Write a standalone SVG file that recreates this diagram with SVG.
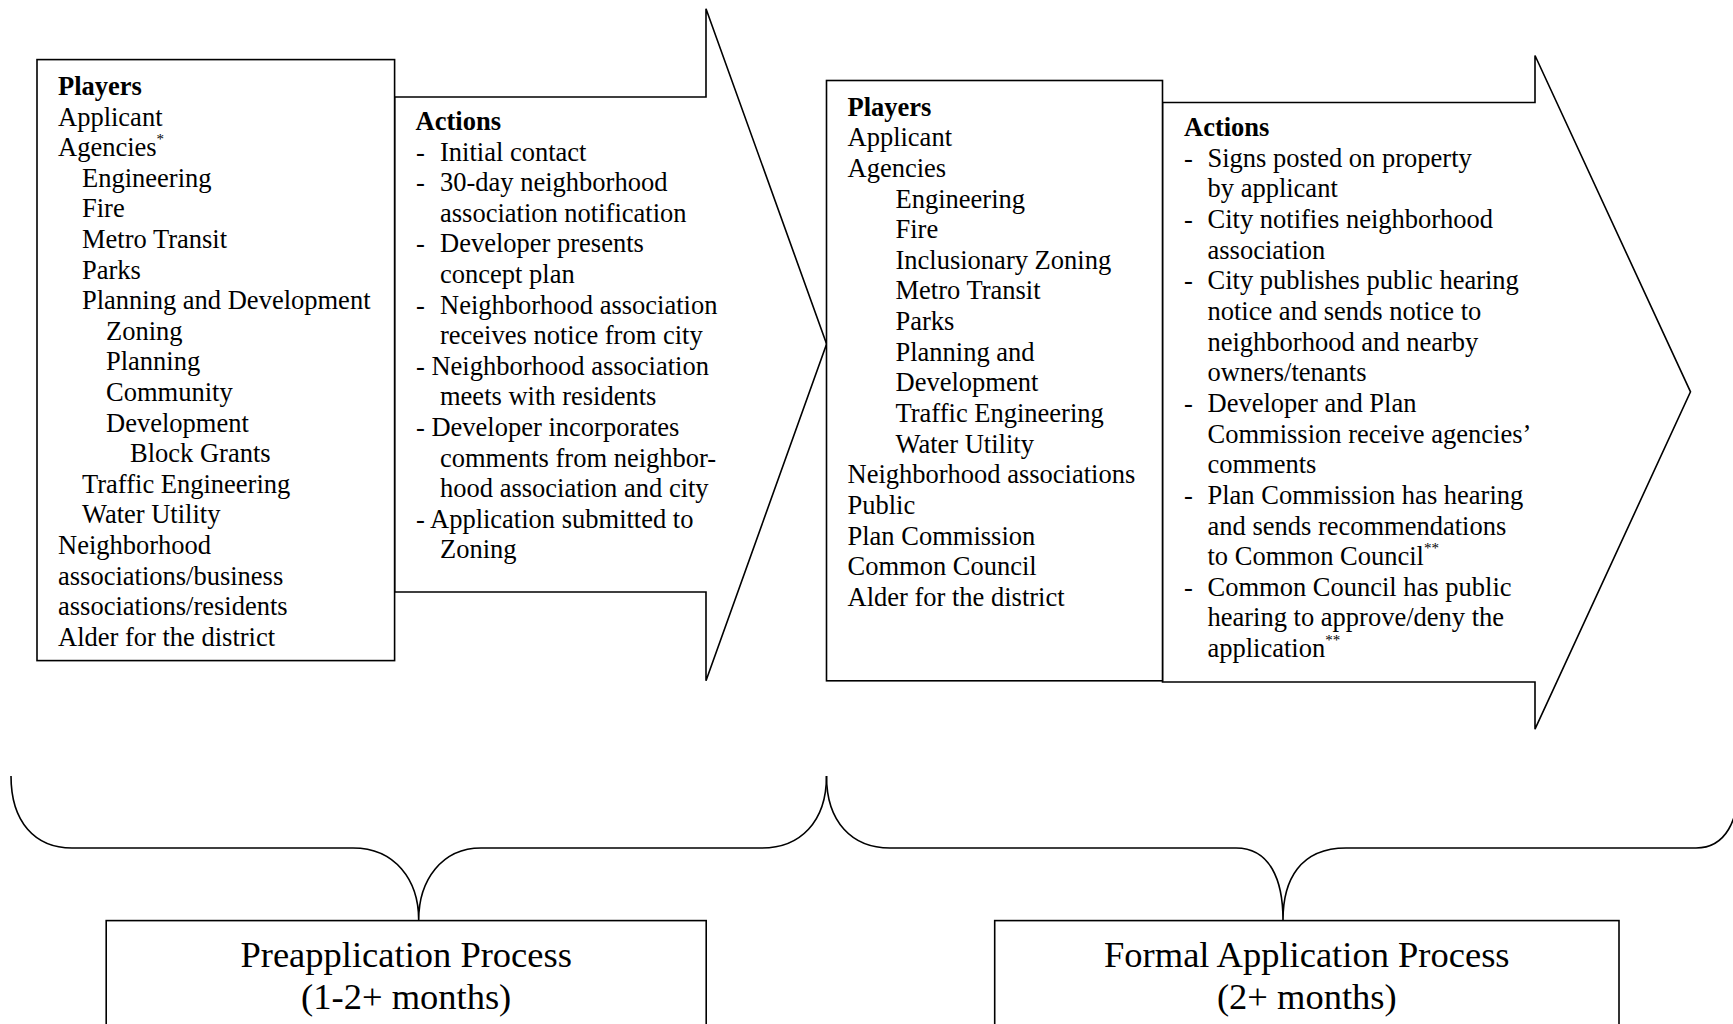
<svg xmlns="http://www.w3.org/2000/svg" width="1733" height="1024" viewBox="0 0 1733 1024">
<style>
.shape{fill:#fff;stroke:#000;stroke-width:1.6;stroke-linejoin:miter}
.brace{fill:none;stroke:#000;stroke-width:1.6}
text{font-family:"Liberation Serif","Times New Roman",serif;font-size:26.5px;fill:#000}
.b{font-weight:bold}
.sup{font-size:15px}
.big{font-size:36.5px;text-anchor:middle}
</style>
<rect width="1733" height="1024" fill="#fff"/>
<g id="connectors">
<path class="brace" d="M 11 776 C 11 822 35 848 72 848 L 353 848 C 395 848 418.7 880 418.7 920 C 418.7 880 442 848 481 848 L 762 848 C 800 848 826.5 822 826.5 776"/>
<path class="brace" d="M 826.5 776 C 826.5 822 852 848 890 848 L 1236 848 C 1270 848 1283 880 1283 920 C 1283 880 1300 848 1346 848 L 1696 848 C 1725 848 1739.5 822 1739.5 776"/>
</g>
<g id="arrow-pre">
<polygon class="shape" points="394.6,97 706,97 706,8.8 826.6,344 706,680.8 706,592 394.6,592"/>
<text class="b" x="415.6" y="130">Actions</text>
<text x="416" y="160.6">-</text><text x="440" y="160.6">Initial contact</text>
<text x="416" y="191.2">-</text><text x="440" y="191.2">30-day neighborhood</text>
<text x="440" y="221.8">association notification</text>
<text x="416" y="252.4">-</text><text x="440" y="252.4">Developer presents</text>
<text x="440" y="283">concept plan</text>
<text x="416" y="313.6">-</text><text x="440" y="313.6">Neighborhood association</text>
<text x="440" y="344.2">receives notice from city</text>
<text x="416" y="374.8">- Neighborhood association</text>
<text x="440" y="405.4">meets with residents</text>
<text x="416" y="436">- Developer incorporates</text>
<text x="440" y="466.6">comments from neighbor-</text>
<text x="440" y="497.2">hood association and city</text>
<text x="416" y="527.8">- Application submitted to</text>
<text x="440" y="558.4">Zoning</text>
</g>
<g id="players-pre">
<rect class="shape" x="37" y="59.6" width="357.6" height="601"/>
<text class="b" x="58" y="95">Players</text>
<text x="58" y="125.6">Applicant</text>
<text x="58" y="156.2">Agencies<tspan class="sup" dy="-12">*</tspan></text>
<text x="82" y="186.8">Engineering</text>
<text x="82" y="217.4">Fire</text>
<text x="82" y="248">Metro Transit</text>
<text x="82" y="278.6">Parks</text>
<text x="82" y="309.2">Planning and Development</text>
<text x="106" y="339.8">Zoning</text>
<text x="106" y="370.4">Planning</text>
<text x="106" y="401">Community</text>
<text x="106" y="431.6">Development</text>
<text x="130" y="462.2">Block Grants</text>
<text x="82" y="492.8">Traffic Engineering</text>
<text x="82" y="523.4">Water Utility</text>
<text x="58" y="554">Neighborhood</text>
<text x="58" y="584.6">associations/business</text>
<text x="58" y="615.2">associations/residents</text>
<text x="58" y="645.8">Alder for the district</text>
</g>
<g id="arrow-formal">
<polygon class="shape" points="1162.5,102.5 1535,102.5 1535,55.5 1690.5,391.8 1535,729.2 1535,682 1162.5,682"/>
<text class="b" x="1184" y="136">Actions</text>
<text x="1184" y="166.6">-</text><text x="1207.5" y="166.6">Signs posted on property</text>
<text x="1207.5" y="197.3">by applicant</text>
<text x="1184" y="228">-</text><text x="1207.5" y="228">City notifies neighborhood</text>
<text x="1207.5" y="258.6">association</text>
<text x="1184" y="289.3">-</text><text x="1207.5" y="289.3">City publishes public hearing</text>
<text x="1207.5" y="319.9">notice and sends notice to</text>
<text x="1207.5" y="350.6">neighborhood and nearby</text>
<text x="1207.5" y="381.2">owners/tenants</text>
<text x="1184" y="411.9">-</text><text x="1207.5" y="411.9">Developer and Plan</text>
<text x="1207.5" y="442.5">Commission receive agencies’</text>
<text x="1207.5" y="473.2">comments</text>
<text x="1184" y="503.8">-</text><text x="1207.5" y="503.8">Plan Commission has hearing</text>
<text x="1207.5" y="534.5">and sends recommendations</text>
<text x="1207.5" y="565.1">to Common Council<tspan class="sup" dy="-12">**</tspan></text>
<text x="1184" y="595.8">-</text><text x="1207.5" y="595.8">Common Council has public</text>
<text x="1207.5" y="626.4">hearing to approve/deny the</text>
<text x="1207.5" y="657.1">application<tspan class="sup" dy="-12">**</tspan></text>
</g>
<g id="players-formal">
<rect class="shape" x="826.5" y="80.5" width="336" height="600.3"/>
<text class="b" x="847.5" y="115.5">Players</text>
<text x="847.5" y="146.2">Applicant</text>
<text x="847.5" y="176.8">Agencies</text>
<text x="895.5" y="207.5">Engineering</text>
<text x="895.5" y="238.1">Fire</text>
<text x="895.5" y="268.8">Inclusionary Zoning</text>
<text x="895.5" y="299.4">Metro Transit</text>
<text x="895.5" y="330.1">Parks</text>
<text x="895.5" y="360.7">Planning and</text>
<text x="895.5" y="391.4">Development</text>
<text x="895.5" y="422">Traffic Engineering</text>
<text x="895.5" y="452.7">Water Utility</text>
<text x="847.5" y="483.3">Neighborhood associations</text>
<text x="847.5" y="514">Public</text>
<text x="847.5" y="544.6">Plan Commission</text>
<text x="847.5" y="575.3">Common Council</text>
<text x="847.5" y="605.9">Alder for the district</text>
</g>
<g id="preapplication">
<rect class="shape" x="106.2" y="920.6" width="600" height="200"/>
<text class="big" x="406.2" y="967">Preapplication Process</text>
<text class="big" x="406.2" y="1009">(1-2+ months)</text>
</g>
<g id="formal">
<rect class="shape" x="994.7" y="920.6" width="624.3" height="200"/>
<text class="big" x="1306.8" y="967">Formal Application Process</text>
<text class="big" x="1306.8" y="1009">(2+ months)</text>
</g>
</svg>
